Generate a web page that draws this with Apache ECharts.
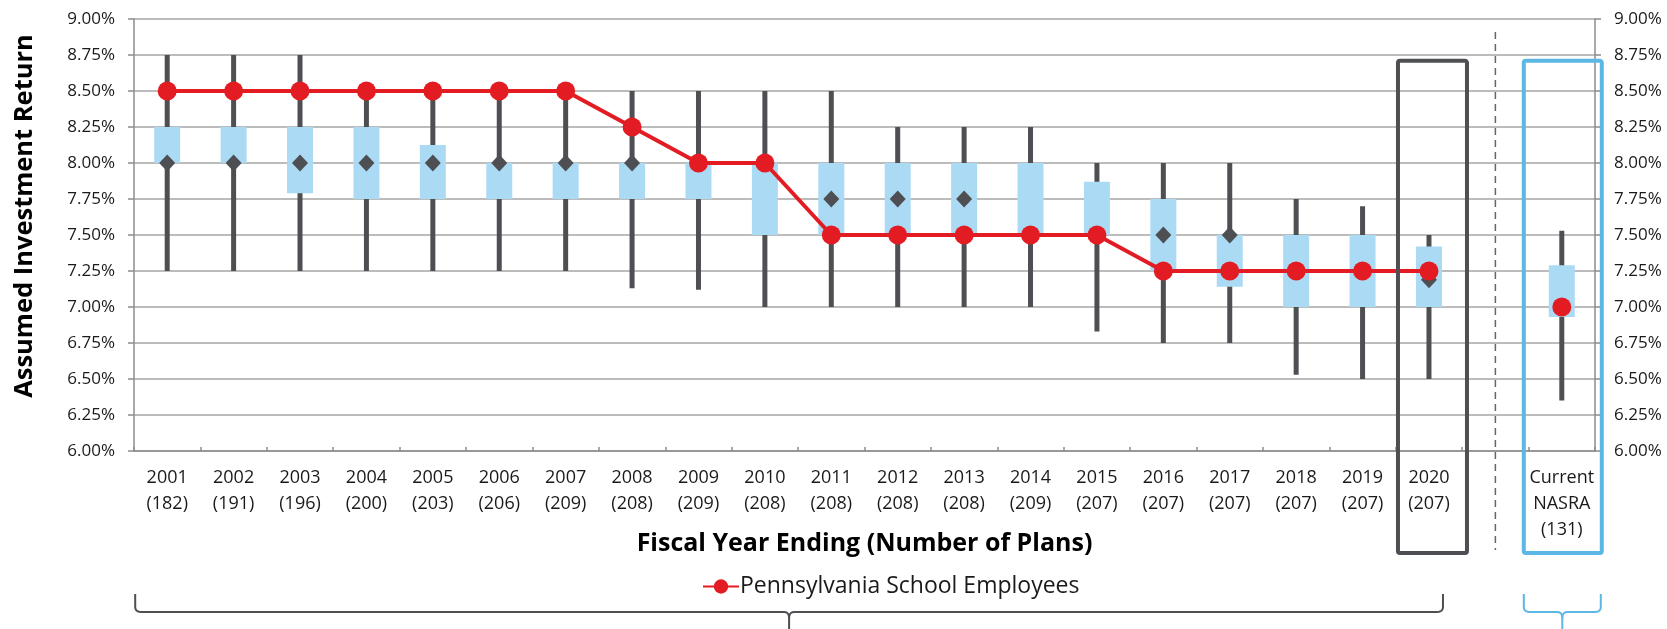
<!DOCTYPE html>
<html>
<head>
<meta charset="utf-8">
<script src="https://cdn.jsdelivr.net/npm/echarts@6/dist/echarts.min.js"></script>
<style>
  html, body { margin: 0; padding: 0; background: #fff; }
  #chart { width: 1667px; height: 629px; }
</style>
</head>
<body>
<div id="chart"></div>
<script>
const years = ["2001", "2002", "2003", "2004", "2005", "2006", "2007", "2008", "2009", "2010",
  "2011", "2012", "2013", "2014", "2015", "2016", "2017", "2018", "2019", "2020"];
const planCounts = [182, 191, 196, 200, 203, 206, 209, 208, 209, 208,
  208, 208, 208, 209, 207, 207, 207, 207, 207, 207];
const nasraLabel = "Current\nNASRA\n(131)";

// index 20 is the empty gap, index 21 is current NASRA
const whiskerHigh = [8.75, 8.75, 8.75, 8.5, 8.5, 8.5, 8.5, 8.5, 8.5, 8.5,
  8.5, 8.25, 8.25, 8.25, 8.0, 8.0, 8.0, 7.75, 7.7, 7.5, null, 7.53];
const boxHigh = [8.25, 8.25, 8.25, 8.25, 8.125, 8.0, 8.0, 8.0, 8.0, 8.0,
  8.0, 8.0, 8.0, 8.0, 7.87, 7.75, 7.5, 7.5, 7.5, 7.42, null, 7.29];
const boxLow = [8.0, 8.0, 7.79, 7.75, 7.75, 7.75, 7.75, 7.75, 7.75, 7.5,
  7.5, 7.5, 7.5, 7.5, 7.5, 7.25, 7.14, 7.0, 7.0, 7.0, null, 6.93];
const whiskerLow = [7.25, 7.25, 7.25, 7.25, 7.25, 7.25, 7.25, 7.13, 7.12, 7.0,
  7.0, 7.0, 7.0, 7.0, 6.83, 6.75, 6.75, 6.53, 6.5, 6.5, null, 6.35];
const medians = [8.0, 8.0, 8.0, 8.0, 8.0, 8.0, 8.0, 8.0, 8.0, 8.0,
  7.75, 7.75, 7.75, 7.5, 7.5, 7.5, 7.5, 7.25, 7.25, 7.19, null, 7.0];
const psers = [8.5, 8.5, 8.5, 8.5, 8.5, 8.5, 8.5, 8.25, 8.0, 8.0,
  7.5, 7.5, 7.5, 7.5, 7.5, 7.25, 7.25, 7.25, 7.25, 7.25, null, 7.0];
const yTicks = { min: 6, max: 9, step: 0.25 };

const categories = years.map((y, i) => y + "\n(" + planCounts[i] + ")").concat(["", nasraLabel]);
const boxData = [];
categories.forEach((c, i) => {
  if (whiskerHigh[i] == null) return;
  boxData.push([i, whiskerLow[i], boxLow[i], boxHigh[i], whiskerHigh[i]]);
});

const FONT = "Open Sans";
const TEXT = "#1a1a1a";
const DARK = "#4d4f53";
const RED = "#e31c23";
const BLUE = "#5db7e5";

const chart = echarts.init(document.getElementById("chart"));

const yAxisBase = {
  type: "value",
  min: yTicks.min,
  max: yTicks.max,
  interval: yTicks.step,
  axisLine: { show: true, lineStyle: { color: "#8c8c8c", width: 1.5 } },
  axisTick: { show: true, length: 6, lineStyle: { color: "#8c8c8c", width: 1.5 } },
  axisLabel: {
    formatter: (v) => v.toFixed(2) + "%",
    fontFamily: FONT,
    fontSize: 17,
    color: TEXT,
    margin: 19,
  },
};

chart.setOption({
  animation: false,
  textStyle: { fontFamily: FONT },
  grid: { left: 134, right: 72, top: 19, bottom: 178 },
  legend: {
    data: ["Pennsylvania School Employees"],
    left: 697,
    top: 570,
    itemWidth: 36,
    itemHeight: 18,
    textStyle: { fontFamily: FONT, fontSize: 23, color: TEXT, padding: [0, 0, 0, -4] },
  },
  xAxis: {
    type: "category",
    data: categories,
    boundaryGap: true,
    name: "Fiscal Year Ending (Number of Plans)",
    nameLocation: "middle",
    nameGap: 80,
    nameMoveOverlap: false,
    nameTextStyle: { fontFamily: FONT, fontSize: 25, fontWeight: "bold", color: "#000" },
    axisLine: { lineStyle: { color: "#8c8c8c", width: 1.5 } },
    axisTick: { show: true, inside: true, length: 4, interval: 0, lineStyle: { color: "#8c8c8c", width: 1.5 } },
    axisLabel: {
      interval: 0,
      fontFamily: FONT,
      fontSize: 18,
      lineHeight: 26,
      margin: 14,
      color: TEXT,
    },
  },
  yAxis: [
    Object.assign({}, yAxisBase, {
      position: "left",
      name: "Assumed Investment Return",
      nameLocation: "middle",
      nameGap: 96,
      nameMoveOverlap: false,
      nameTextStyle: {
        fontFamily: FONT, fontSize: 25.5, fontWeight: "bold", color: "#000",
        padding: [0, 0, 0, 38],
      },
      splitLine: { show: true, lineStyle: { color: "#a6a6a6", width: 1.5 } },
    }),
    Object.assign({}, yAxisBase, {
      position: "right",
      splitLine: { show: false },
    }),
  ],
  series: [
    {
      name: "range",
      type: "custom",
      z: 2,
      data: boxData,
      encode: { x: 0, y: [1, 2, 3, 4] },
      renderItem: (params, api) => {
        const i = api.value(0);
        const pLow = api.coord([i, api.value(1)]);
        const pQ1 = api.coord([i, api.value(2)]);
        const pQ3 = api.coord([i, api.value(3)]);
        const pHigh = api.coord([i, api.value(4)]);
        return {
          type: "group",
          children: [
            {
              type: "rect",
              shape: { x: pHigh[0] - 2.5, y: pHigh[1], width: 5, height: pLow[1] - pHigh[1] },
              style: { fill: DARK },
            },
            {
              type: "rect",
              shape: { x: pQ3[0] - 13, y: pQ3[1], width: 26, height: pQ1[1] - pQ3[1] },
              style: { fill: "#abdaf5" },
            },
          ],
        };
      },
    },
    {
      name: "median",
      type: "scatter",
      z: 3,
      data: medians,
      symbol: "diamond",
      symbolSize: [16, 17],
      itemStyle: { color: DARK, opacity: 1 },
    },
    {
      name: "Pennsylvania School Employees",
      type: "line",
      z: 4,
      data: psers,
      connectNulls: false,
      symbol: "circle",
      symbolSize: 19,
      showAllSymbol: true,
      lineStyle: { color: RED, width: 4 },
      itemStyle: { color: RED },
    },
  ],
});

// annotation frames, separator and brackets placed from the axis scales
const cx = (i) => chart.convertToPixel({ xAxisIndex: 0 }, categories[i]);
const cy = (v) => chart.convertToPixel({ yAxisIndex: 0 }, v);
const x2020 = cx(19);
const xGap = cx(20);
const xNasra = cx(21);
const frameTop = cy(8.71);
const axisBottom = cy(yTicks.min);
const frameBottom = axisBottom + 102;

function curve(p0, p1, p2) {
  const pts = [];
  for (let t = 0; t <= 1.0001; t += 0.2) {
    const a = (1 - t) * (1 - t), b = 2 * (1 - t) * t, c = t * t;
    pts.push([a * p0[0] + b * p1[0] + c * p2[0], a * p0[1] + b * p1[1] + c * p2[1]]);
  }
  return pts;
}

function bracket(left, right, color) {
  const mid = (left + right) / 2;
  const yTop = axisBottom + 143;
  const yH = axisBottom + 161;
  const style = { stroke: color, lineWidth: 2, fill: null };
  const leftHalf = [[left, yTop]]
    .concat(curve([left, yH - 5], [left, yH], [left + 6, yH]))
    .concat(curve([mid - 5, yH], [mid, yH], [mid, yH + 6]))
    .concat([[mid, 629]]);
  const rightHalf = [[right, yTop]]
    .concat(curve([right, yH - 5], [right, yH], [right - 6, yH]))
    .concat(curve([mid + 5, yH], [mid, yH], [mid, yH + 6]));
  return [
    { type: "polyline", shape: { points: leftHalf }, style: style },
    { type: "polyline", shape: { points: rightHalf }, style: style },
  ];
}

chart.setOption({
  graphic: [
    {
      type: "line",
      shape: { x1: xGap, y1: cy(8.91), x2: xGap, y2: frameBottom - 3 },
      style: { stroke: "#666", lineWidth: 1.5, lineDash: [7, 5] },
    },
    {
      type: "rect",
      shape: { x: x2020 - 31, y: frameTop, width: 69, height: frameBottom - frameTop, r: 2 },
      style: { stroke: DARK, lineWidth: 4, fill: null },
      z: 10,
    },
    {
      type: "rect",
      shape: { x: xNasra - 38, y: frameTop, width: 78, height: frameBottom - frameTop, r: 2 },
      style: { stroke: BLUE, lineWidth: 4, fill: null },
      z: 10,
    },
  ].concat(bracket(cx(0) - 32, x2020 + 14, DARK), bracket(xNasra - 38, xNasra + 39, BLUE)),
});

window.addEventListener("resize", () => {
  chart.resize();
});
</script>
</body>
</html>
